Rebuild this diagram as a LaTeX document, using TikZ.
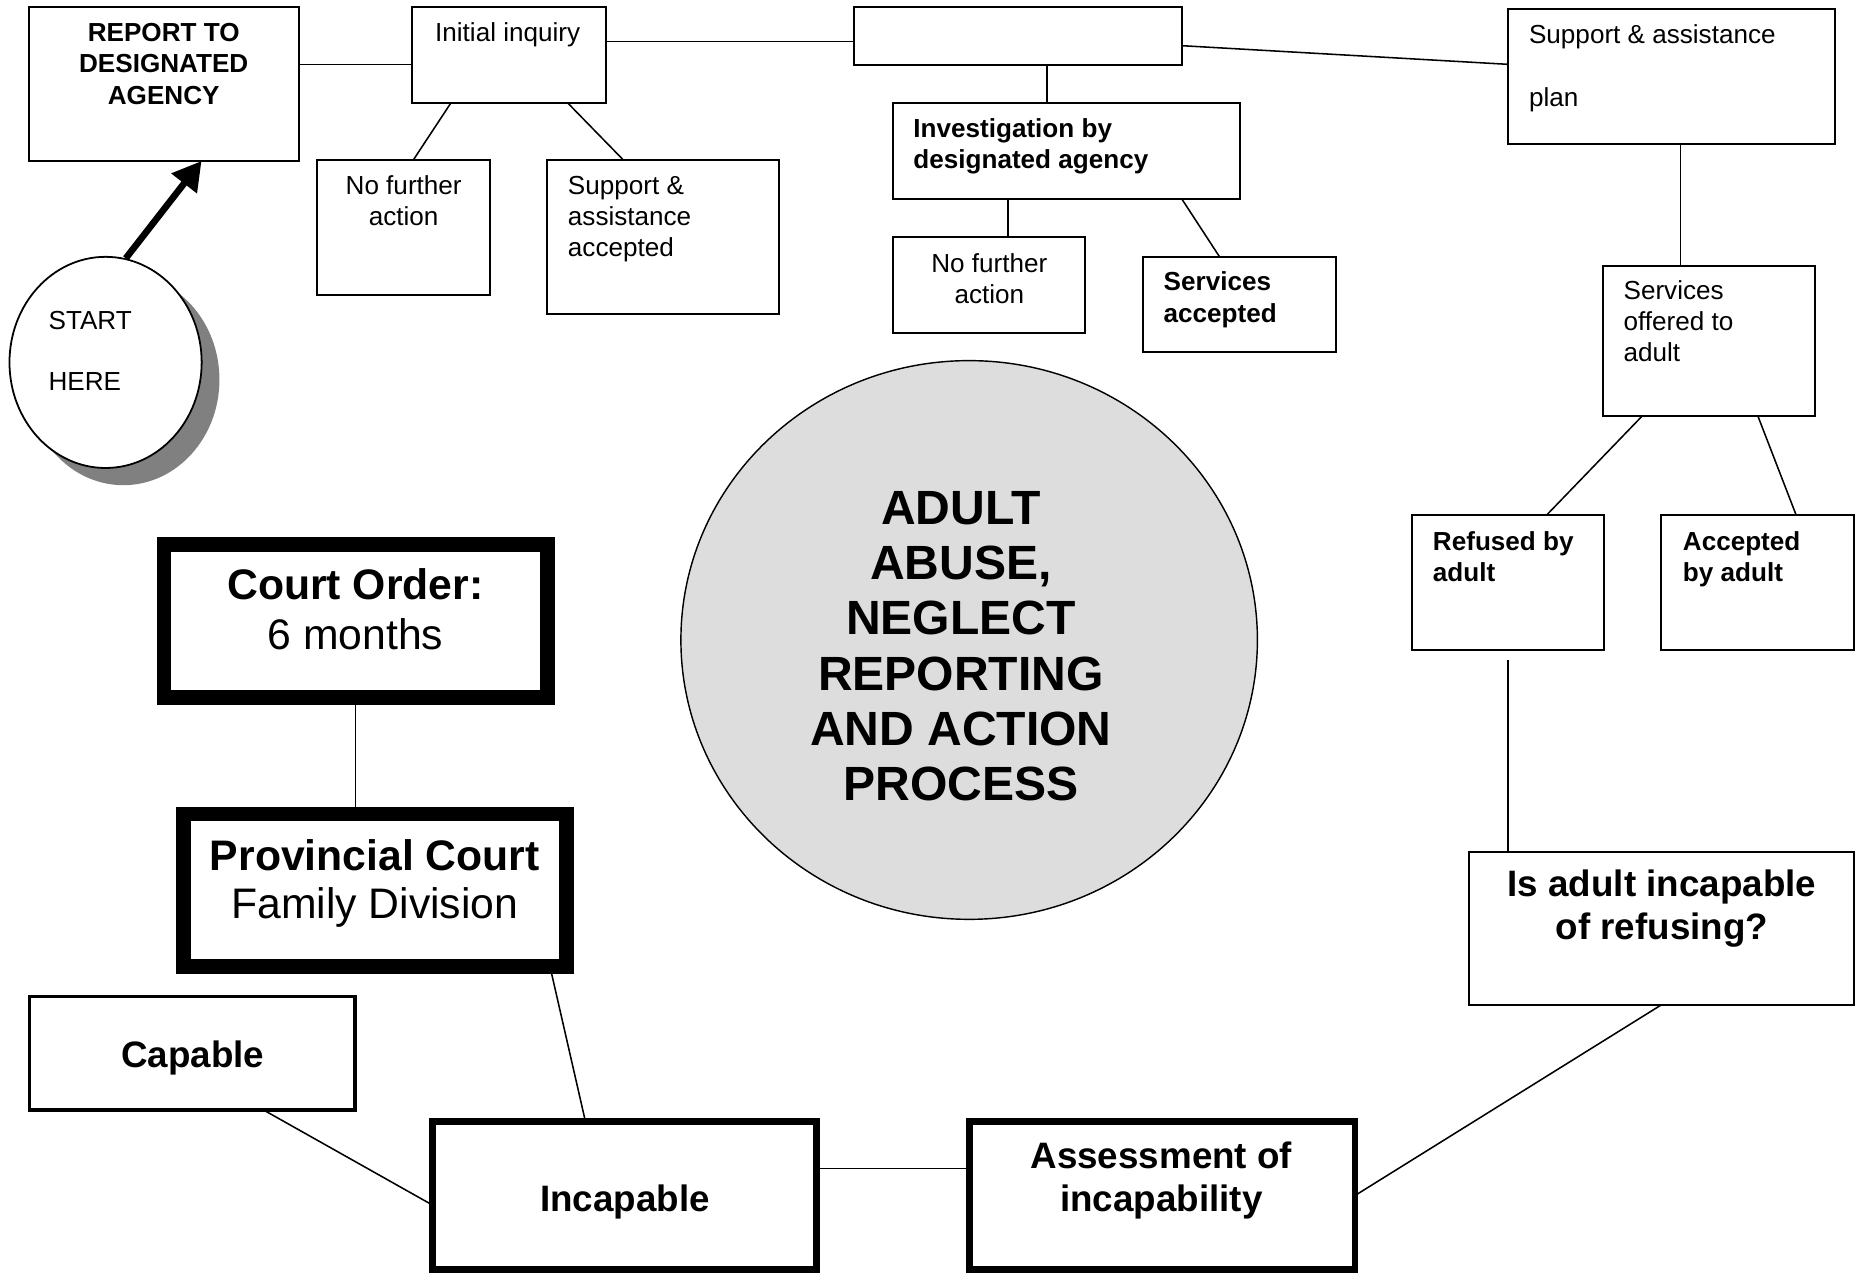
\documentclass[tikz,border=0pt]{standalone}
\usepackage{fontspec}
\setmainfont{Liberation Sans}
\usetikzlibrary{shapes.geometric,arrows.meta,calc,fit,shadows}
\definecolor{circfill}{HTML}{DDDDDD}
\definecolor{shadowgray}{HTML}{808080}
\tikzset{
  thinbox/.style={draw, line width=0.85pt, inner sep=0pt, outer sep=0pt},
  heavybox/.style={draw, line width=6.25pt, inner sep=0pt, outer sep=0pt},
  midbox/.style={draw, line width=2.75pt, inner sep=0pt, outer sep=0pt},
  capbox/.style={draw, line width=1.6pt, inner sep=0pt, outer sep=0pt},
  conn/.style={line width=0.65pt},
  txt/.style={inner sep=0pt, outer sep=0pt},
  fsmall/.style={font=\fontsize{11}{13.1}\selectfont},
  fsmallb/.style={font=\fontsize{11}{13.2}\selectfont\bfseries},
  fmidb/.style={font=\fontsize{15.5}{18.25}\selectfont\bfseries},
  fcentre/.style={font=\fontsize{20.25}{23.3}\selectfont\bfseries},
}
\begin{document}
\begin{tikzpicture}[x=0.5pt, y=-0.5pt]
\useasboundingbox[fill=white] (0,0) rectangle (1568,1073);

% ---------- boxes ----------
\node[thinbox, fit={(24.5,5.6) (251.7,135.7)}] (report) {};
\node[thinbox, fit={(347.5,5.6) (510.6,87)}] (init) {};
\node[thinbox, fit={(720,5.6) (996.5,54.8)}] (blank) {};
\node[thinbox, fit={(1271,7.9) (1547,121.4)}] (plan) {};
\node[thinbox, fit={(267,135) (413,249)}] (nfa1) {};
\node[thinbox, fit={(461.5,135) (656.4,265)}] (sa1) {};
\node[thinbox, fit={(752.6,86.6) (1045,168)}] (invest) {};
\node[thinbox, fit={(752.6,200) (915,281)}] (nfa2) {};
\node[thinbox, fit={(963.5,216.4) (1126,297)}] (svcacc) {};
\node[thinbox, fit={(1351.6,224) (1530,351)}] (offered) {};
\node[thinbox, fit={(1190,434) (1352.4,548)}] (refused) {};
\node[thinbox, fit={(1400.4,434) (1562.8,548)}] (accepted) {};
\node[thinbox, fit={(1238.5,718) (1562.8,847)}] (isadult) {};
\node[midbox, fit={(817.35,945.35) (1142.25,1070.3)}] (assess) {};
\node[midbox, fit={(364.75,945.35) (688.25,1070.3)}] (incap) {};
\node[capbox, fit={(24.9,840.1) (299.4,935.4)}] (capable) {};
\node[heavybox, fit={(154.85,686.25) (477.75,815.05)}] (prov) {};
\node[heavybox, fit={(138.25,459.25) (461.25,588.15)}] (court) {};

% ---------- circles ----------
\node[ellipse, draw, line width=0.75pt, fill=white, minimum width=81pt, minimum height=89pt, inner sep=0pt,
      drop shadow={shadow xshift=7.5pt, shadow yshift=-7.25pt, fill=shadowgray, opacity=1}] (start) at (89,305.5) {};
\node[ellipse, draw, line width=0.6pt, fill=circfill, minimum width=243pt, minimum height=235.5pt, inner sep=0pt] (centre) at (817,539.5) {};

% ---------- texts (anchor = baseline of the last line) ----------
\node[txt, fsmallb, align=center, anchor=base] (reportT) at (138,87.7) {REPORT TO\\DESIGNATED\\AGENCY};
\node[txt, fsmall, anchor=base] (initT) at (428,35) {Initial inquiry};
\node[txt, fsmall, align=center, anchor=base] (nfa1T) at (340.3,190.5) {No further\\action};
\node[txt, fsmall, align=left, anchor=base west] (sa1T) at (478.8,216) {Support \&\\assistance\\accepted};
\node[txt, font=\fontsize{11}{26.2}\selectfont, align=left, anchor=base west] (planT) at (1289,89.4) {Support \& assistance\\plan};
\node[txt, fsmallb, align=left, anchor=base west] (investT) at (770,142) {Investigation by\\designated agency};
\node[txt, fsmall, align=center, anchor=base] (nfa2T) at (834,255.5) {No further\\action};
\node[txt, fsmallb, align=left, anchor=base west] (svcaccT) at (981,271.5) {Services\\accepted};
\node[txt, fsmall, align=left, anchor=base west] (offeredT) at (1368.7,305) {Services\\offered to\\adult};
\node[txt, fsmallb, align=left, anchor=base west] (refusedT) at (1208,490.5) {Refused by\\adult};
\node[txt, fsmallb, align=left, anchor=base west] (acceptedT) at (1418.7,490.5) {Accepted\\by adult};
\node[txt, fmidb, align=center, anchor=base] (isadultT) at (1401,792) {Is adult incapable\\of refusing?};
\node[txt, fmidb, align=center, anchor=base] (assessT) at (979,1021.5) {Assessment of\\incapability};
\node[txt, fmidb, anchor=base] (incapT) at (526.8,1021.5) {Incapable};
\node[txt, fmidb, anchor=base] (capableT) at (162.6,900) {Capable};
\node[txt, font=\fontsize{18}{20.25}\selectfont, align=center, anchor=base] (provT) at (316,774.5) {\textbf{Provincial Court}\\Family Division};
\node[txt, font=\fontsize{18}{21.4}\selectfont, align=center, anchor=base] (courtT) at (299.6,547.8) {\textbf{Court Order:}\\6 months};
\node[txt, fcentre, align=center, anchor=base] (centreT) at (810,675) {ADULT\\ABUSE,\\NEGLECT\\REPORTING\\AND ACTION\\PROCESS};
\node[txt, font=\fontsize{11}{25.7}\selectfont, align=left, anchor=base west] (startT) at (41,329.4) {START\\HERE};

% ---------- connectors ----------
\draw[conn] ($(report.north east)!0.3736!(report.south east)$) coordinate (rA) -- (rA -| init.west);
\draw[conn] ($(init.north east)!0.361!(init.south east)$) coordinate (iA) -- (iA -| blank.west);
\draw[conn] ($(blank.north east)!0.669!(blank.south east)$) -- ($(plan.north west)!0.408!(plan.south west)$);
\draw[conn] ($(init.south west)!0.199!(init.south east)$) -- ($(nfa1.north west)!0.557!(nfa1.north east)$);
\draw[conn] ($(init.south west)!0.805!(init.south east)$) -- ($(sa1.north west)!0.329!(sa1.north east)$);
\draw[conn] ($(blank.south west)!0.588!(blank.south east)$) coordinate (bA) -- (bA |- invest.north);
\draw[conn] ($(invest.south west)!0.333!(invest.south east)$) coordinate (vA) -- (vA |- nfa2.north);
\draw[conn] ($(invest.south west)!0.834!(invest.south east)$) -- ($(svcacc.north west)!0.397!(svcacc.north east)$);
\draw[conn] ($(plan.south west)!0.5275!(plan.south east)$) coordinate (pA) -- (pA |- offered.north);
\draw[conn] ($(offered.south west)!0.182!(offered.south east)$) -- ($(refused.north west)!0.702!(refused.north east)$);
\draw[conn] ($(offered.south west)!0.731!(offered.south east)$) -- ($(accepted.north west)!0.70!(accepted.north east)$);
\draw[conn] ([yshift=-4.25pt]refused.south) -- (refused.south |- isadult.north);
\draw[conn] (isadult.south) -- (assess.east);
\draw[conn] ($(incap.north east)!0.317!(incap.south east)$) coordinate (cA) -- (cA -| assess.west);
\draw[conn] ($(capable.south west)!0.7166!(capable.south east)$) -- ($(incap.north west)!0.565!(incap.south west)$);
\draw[conn] ($(prov.south west)!0.9565!(prov.south east)$) -- ($(incap.north west)!0.398!(incap.north east)$);
\draw[conn] (court.south) -- (court.south |- prov.north);

% ---------- start arrow ----------
\draw[line width=2.8pt, -{Triangle[length=12pt,width=13pt]}] (start.79) -- ($(report.south west)!0.64!(report.south east)$);
\end{tikzpicture}
\end{document}
